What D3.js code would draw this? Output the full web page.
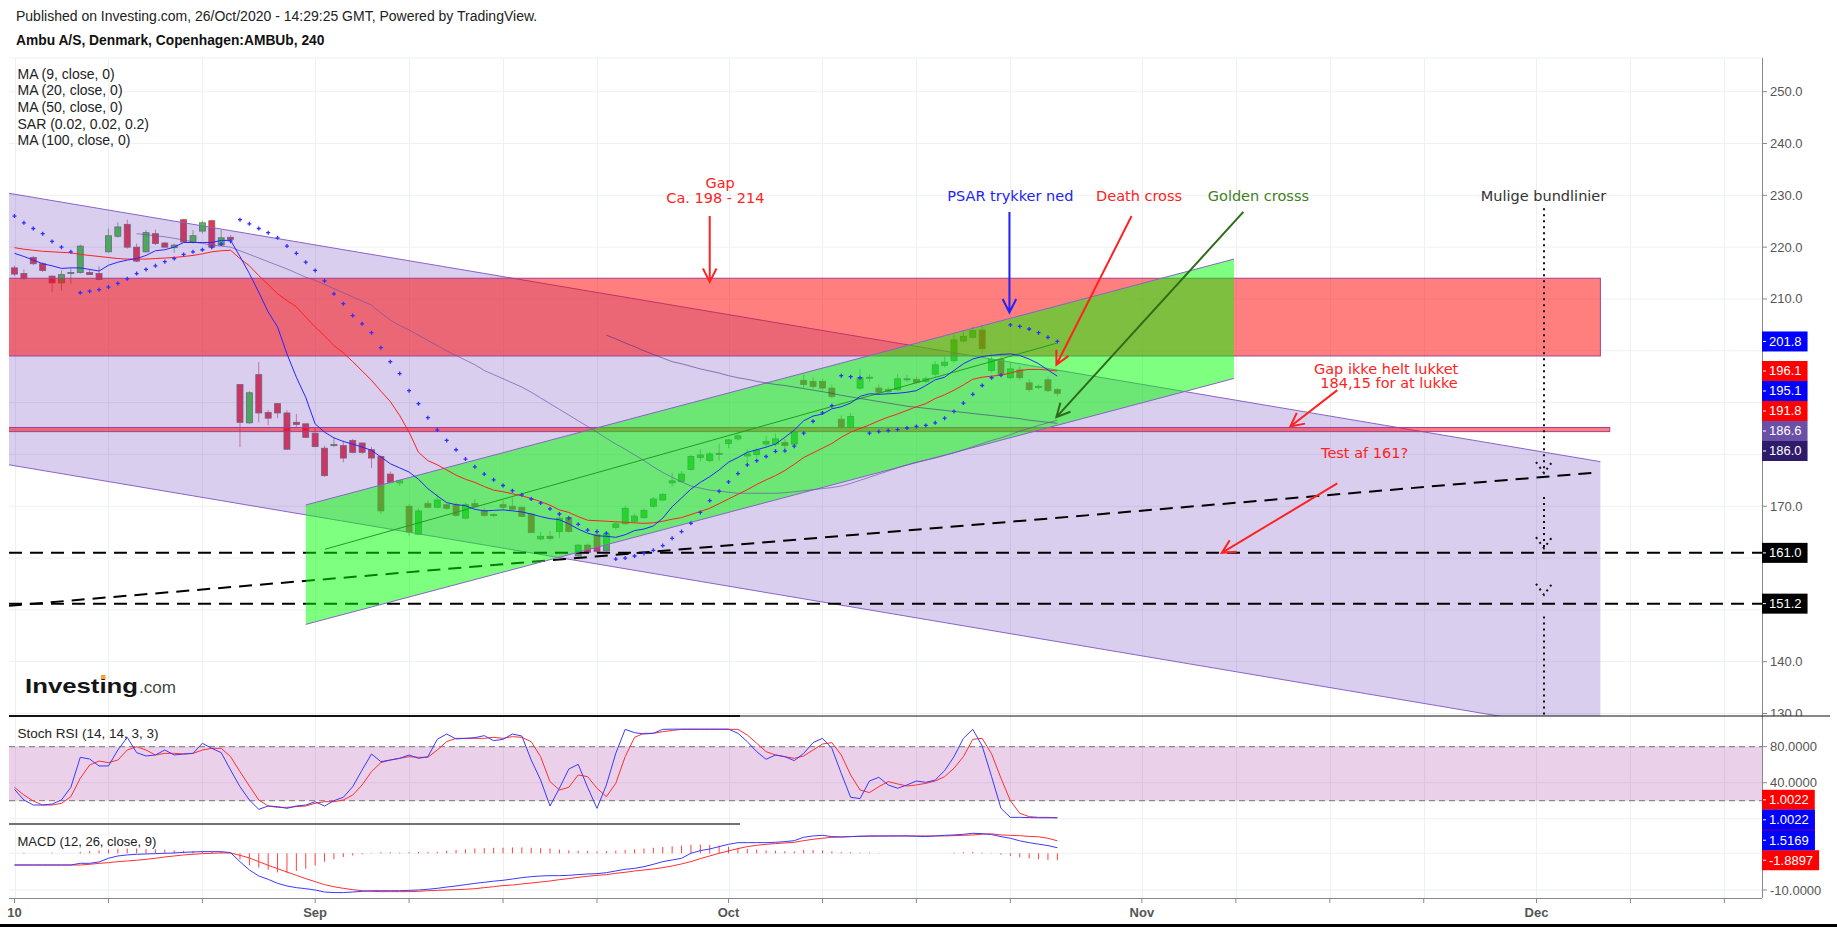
<!DOCTYPE html>
<html><head><meta charset="utf-8">
<script src="https://cdn.jsdelivr.net/npm/d3@7/dist/d3.min.js"></script>
<style>html,body{margin:0;padding:0;background:#fff;overflow:hidden}svg{display:block}</style>
</head><body>
<svg id="chart" width="1837" height="927"></svg>
<script>
// ---------------- DATA ----------------
const open=[216.0,214.9,218.0,216.8,214.4,213.1,214.9,215.1,215.1,214.9,219.1,222.1,224.4,220.0,219.1,222.6,220.8,219.9,225.3,220.9,223.1,225.1,220.4,221.9,193.5,186.1,195.4,188.1,189.8,188.0,186.2,185.9,184.1,181.2,181.7,181.7,182.7,182.2,180.9,179.6,176.2,174.5,170.0,164.6,170.5,169.8,170.3,170.3,167.7,170.5,169.2,168.4,170.3,170.0,169.8,168.5,163.7,164.2,165.1,167.8,160.4,162.5,164.5,161.4,165.9,166.6,167.1,167.8,170.0,171.2,174.5,174.8,177.1,179.4,178.8,180.2,182.1,183.0,179.7,180.0,182.0,182.0,182.3,182.0,194.3,194.1,194.1,192.8,186.8,185.2,192.8,194.7,192.8,192.5,192.5,194.6,194.5,194.1,195.5,197.2,198.1,201.9,202.6,204.0,196.2,198.4,194.8,196.3,193.8,193.0,194.4,192.5];
const high=[216.4,215.7,218.3,217.1,214.6,215.5,215.9,220.5,215.8,216.3,223.6,224.8,225.3,220.7,223.3,223.4,221.0,220.7,225.5,223.3,225.1,225.3,223.3,222.3,193.6,192.2,197.8,188.6,189.9,188.5,187.8,186.0,185.2,181.7,183.3,182.7,183.0,182.3,181.4,179.8,176.7,174.9,170.4,169.6,171.1,172.3,170.8,170.8,170.7,171.4,169.7,168.6,171.1,171.7,170.1,168.6,165.1,165.2,168.5,168.1,162.7,162.8,164.9,165.1,166.9,170.1,168.6,169.6,171.8,172.6,176.5,176.8,179.9,181.0,180.5,182.0,183.0,184.0,181.0,181.3,183.5,184.0,183.0,184.6,195.4,194.9,194.6,193.5,187.5,188.0,196.5,195.5,193.5,193.0,195.5,195.3,195.0,195.0,198.0,198.9,203.1,204.0,204.6,205.0,199.5,199.5,197.8,197.0,194.5,193.5,195.0,192.8];
const low=[214.4,213.7,216.5,215.2,211.3,211.6,212.9,214.9,214.6,213.6,218.9,221.8,219.7,217.1,218.9,220.4,219.8,218.9,220.8,220.7,222.6,219.7,220.2,220.7,181.4,185.9,186.2,185.6,187.0,180.9,185.2,183.2,181.4,175.7,181.4,178.5,180.2,180.1,177.4,168.5,174.4,173.9,164.3,164.5,169.6,169.6,169.3,168.0,167.5,169.7,168.0,167.9,169.4,169.2,168.0,164.9,163.4,163.4,163.9,164.9,160.1,160.9,161.0,161.2,165.5,166.4,166.8,167.5,169.7,171.0,173.8,174.6,176.9,178.6,178.5,178.8,181.2,182.7,178.5,179.4,181.5,181.5,181.0,181.8,192.8,192.6,192.2,190.8,184.8,184.9,192.5,194.0,191.5,191.8,192.2,194.0,193.6,193.8,195.0,196.8,197.6,201.5,202.3,199.5,195.8,195.0,194.5,194.3,192.0,192.6,192.0,191.2];
const close=[214.8,214.0,216.8,215.5,213.1,214.7,215.1,220.2,214.7,213.8,222.2,223.9,220.0,217.3,222.8,220.7,220.0,220.4,221.0,222.2,224.7,220.0,221.8,221.5,186.2,191.9,188.0,187.0,188.0,181.0,185.8,183.3,181.5,175.9,181.9,179.3,180.4,180.4,179.3,169.1,174.6,174.9,165.0,169.1,169.8,171.2,169.6,168.2,170.3,169.9,168.2,168.3,169.8,169.4,168.0,164.9,164.2,163.8,167.7,165.1,162.5,161.1,161.3,164.7,166.6,169.6,168.1,169.2,171.4,172.3,174.9,176.2,179.6,179.9,180.1,180.0,182.8,183.6,180.1,180.8,182.5,183.0,181.7,184.3,193.5,193.1,192.8,191.2,185.2,187.3,194.8,194.9,192.0,192.1,194.6,194.4,193.9,194.6,197.3,197.8,202.1,202.8,203.9,200.4,198.3,195.4,196.5,194.8,192.5,193.1,192.3,191.8];
const ma9=[218.8,218.2,217.5,216.8,216.4,215.9,216.0,216.0,215.7,215.4,216.5,217.1,217.5,217.8,218.4,219.3,219.5,220.0,220.9,220.9,220.9,220.9,221.3,221.3,218.2,214.9,211.3,207.5,204.6,199.4,194.9,191.0,185.9,184.3,183.2,182.5,182.0,181.4,180.8,179.5,178.2,177.4,176.6,175.2,173.4,172.0,170.7,170.3,170.1,169.4,169.1,169.2,169.3,169.1,168.9,168.5,168.0,167.6,167.4,166.6,165.6,164.8,164.3,164.2,164.0,164.5,165.3,165.6,166.2,167.7,169.9,171.6,173.3,174.6,175.7,177.0,178.5,179.4,180.4,180.9,181.4,182.0,183.3,184.7,186.5,187.4,187.8,188.8,189.2,189.9,191.2,191.7,191.6,191.7,191.8,192.0,192.3,193.3,194.4,194.9,196.2,197.5,198.4,198.9,199.1,199.3,199.4,199.1,198.4,197.5,196.3,195.1];
const ma20=[219.9,219.6,219.4,219.2,219.1,219.0,218.9,218.6,218.4,218.2,218.0,217.8,217.7,217.7,217.7,217.8,217.9,218.0,218.2,218.4,218.7,219.1,219.3,219.4,217.8,216.4,214.5,212.8,211.0,209.7,208.5,206.5,204.6,202.9,201.0,199.6,197.9,196.1,194.3,192.2,190.2,187.5,184.3,180.4,178.8,178.0,177.0,176.0,175.2,174.6,173.8,173.1,172.8,172.4,172.0,171.5,170.9,170.2,169.3,168.8,168.0,167.3,167.2,167.1,167.0,166.9,166.8,166.7,166.8,167.1,167.5,167.8,168.4,169.0,169.6,170.5,171.4,172.3,173.2,174.2,175.1,175.9,176.9,178.1,179.4,180.3,181.2,182.1,183.3,184.3,185.0,185.7,186.5,187.2,187.8,188.5,189.2,189.8,190.8,191.5,192.4,193.4,194.5,194.9,195.1,195.3,195.7,196.2,196.4,196.4,196.3,196.1];
const ma50=[null,null,null,null,null,null,null,null,null,null,null,null,null,222.6,222.4,222.2,222.0,221.7,221.4,221.0,220.7,220.4,220.2,220.0,219.3,218.6,217.9,217.2,216.5,215.8,215.0,214.2,213.6,212.8,212.0,211.2,210.4,209.6,208.8,207.3,205.9,204.9,204.0,203.0,202.0,201.0,200.0,199.1,198.2,197.3,196.2,195.4,194.6,193.8,193.0,192.0,190.9,189.8,188.7,187.6,186.5,185.4,184.3,183.1,182.0,181.0,179.9,178.8,177.6,176.5,175.6,174.7,173.9,173.5,173.1,172.9,172.7,172.5,172.5,172.5,172.5,172.5,172.6,172.8,173.0,173.2,173.4,173.6,173.9,174.4,175.0,175.6,176.2,176.8,177.4,178.0,178.5,178.9,179.3,179.8,180.3,180.9,181.5,182.1,182.7,183.2,183.8,184.5,185.0,185.6,186.1,186.6];
const ma100=[null,null,null,null,null,null,null,null,null,null,null,null,null,null,null,null,null,null,null,null,null,null,null,null,null,null,null,null,null,null,null,null,null,null,null,null,null,null,null,null,null,null,null,null,null,null,null,null,null,null,null,null,null,null,null,null,null,null,null,null,null,null,null,203.0,202.3,201.5,200.8,200.0,199.3,198.6,197.9,197.5,197.0,196.5,196.1,195.7,195.2,194.8,194.5,194.1,193.8,193.5,193.3,193.0,192.7,192.4,192.1,191.8,191.4,191.1,190.8,190.5,190.2,189.9,189.6,189.3,189.1,188.9,188.7,188.5,188.3,188.1,187.9,187.7,187.5,187.3,187.1,186.9,186.6,186.4,186.2,186.0];
const sar=[226.0,224.7,223.6,222.6,221.1,220.0,219.1,211.2,211.5,211.8,212.3,213.0,213.9,214.9,215.7,216.4,217.2,217.8,218.6,219.1,219.5,220.0,220.6,221.2,225.3,224.5,223.6,222.8,221.8,220.2,218.8,217.1,215.5,213.5,211.0,209.1,206.8,205.2,203.5,200.6,197.9,195.6,192.3,189.8,187.1,184.7,182.7,180.9,179.1,177.6,176.2,175.1,174.0,173.0,172.2,171.4,170.6,169.5,168.5,167.7,166.5,165.4,165.1,164.8,159.8,160.0,160.4,160.9,161.5,162.4,163.8,165.1,166.7,168.8,171.1,172.9,174.7,176.3,178.0,178.8,179.6,180.6,180.7,181.6,184.1,186.4,188.0,189.4,195.2,195.0,194.8,184.1,184.4,184.6,184.8,185.1,185.4,185.6,186.1,187.0,188.3,189.9,191.6,193.3,194.8,195.3,205.0,204.7,204.2,203.5,202.6,201.8];
const stochK=[32.6,20.8,15.2,15.2,16.3,20.8,34.9,68.2,66.3,58.6,58.6,76.3,90.4,73.4,69.7,70.8,76.3,70.8,71.9,72.6,83.8,78.2,73.4,54.1,35.6,20.8,10.4,14.1,13.4,11.5,14.1,15.2,18.9,14.1,20.0,23.8,35.6,54.1,71.9,63.4,65.2,67.1,70.8,67.1,68.9,88.2,94.1,88.6,89.3,90.0,92.3,86.7,88.2,94.1,91.9,65.2,43.0,14.1,33.8,55.2,60.4,34.9,11.5,37.5,72.6,99.3,95.6,94.1,94.9,99.3,99.5,99.5,99.5,99.5,99.5,99.5,99.5,94.9,85.6,74.5,66.0,70.8,68.9,64.5,72.6,84.5,89.3,78.2,50.4,23.8,22.3,41.9,46.0,37.5,33.8,37.5,41.9,40.4,43.0,53.4,68.9,89.3,99.3,80.8,46.7,11.5,1.5,1.5,1.2,1.0,1.0,1.0022];
const stochD=[34.9,26.3,19.7,15.2,15.2,17.1,24.5,44.9,59.7,64.1,62.3,65.2,76.3,80.0,76.3,70.8,72.6,72.6,71.9,72.6,76.3,78.2,78.2,68.9,52.3,36.3,20.8,14.1,12.6,12.6,13.4,14.1,17.1,18.9,18.9,20.8,26.3,37.5,52.3,62.3,65.2,67.1,68.9,68.2,68.2,76.3,85.6,89.3,89.3,89.3,89.3,90.4,89.3,91.2,90.4,85.6,68.9,41.2,31.9,34.9,48.6,46.7,33.8,24.5,39.3,68.9,90.4,94.9,94.9,96.7,98.0,99.3,99.3,99.3,99.3,99.3,99.3,99.3,93.0,83.8,74.5,70.8,68.9,67.1,69.7,76.3,83.0,84.5,70.8,48.6,31.9,29.0,35.6,41.2,38.6,36.3,37.5,39.3,41.9,46.7,56.0,68.9,88.2,89.3,72.0,45.0,20.0,6.0,2.3,1.5,1.5,1.0022];
const macd=[-3.19,-3.19,-3.19,-3.19,-3.19,-3.19,-3.19,-2.73,-2.73,-2.36,-1.36,-0.73,-0.45,-0.27,-0.18,-0.09,0.0,0.09,0.27,0.36,0.45,0.45,0.45,0.18,-2.27,-4.55,-6.18,-7.09,-8.18,-8.9,-9.36,-9.64,-10.0,-10.55,-10.7,-10.7,-10.55,-10.36,-10.2,-10.2,-10.2,-10.2,-10.1,-10.0,-9.8,-9.55,-9.2,-8.9,-8.55,-8.2,-7.9,-7.6,-7.36,-7.0,-6.64,-6.36,-6.18,-6.1,-6.1,-6.0,-5.8,-5.64,-5.55,-5.27,-4.82,-4.36,-4.1,-3.64,-3.0,-2.27,-1.82,-1.36,0.0,0.73,1.18,1.82,2.45,2.9,2.9,2.9,2.9,3.0,3.18,3.45,4.36,4.73,4.9,4.55,4.45,4.55,4.64,4.73,4.73,4.73,4.73,4.73,4.64,4.55,4.73,4.9,5.0,5.18,5.45,5.36,5.1,4.55,4.1,3.4,2.9,2.5,2.1,1.5169];
const signal=[-3.19,-3.19,-3.19,-3.19,-3.19,-3.19,-3.19,-3.19,-3.0,-2.73,-2.55,-2.27,-2.09,-1.9,-1.64,-1.36,-1.0,-0.73,-0.45,-0.27,-0.09,0.0,0.09,0.09,-0.55,-1.27,-2.27,-3.27,-4.18,-5.1,-6.0,-6.9,-7.73,-8.55,-9.1,-9.55,-9.9,-10.2,-10.36,-10.45,-10.45,-10.45,-10.45,-10.36,-10.2,-10.1,-10.0,-9.9,-9.8,-9.64,-9.36,-9.1,-8.8,-8.64,-8.36,-8.1,-7.82,-7.55,-7.18,-6.9,-6.55,-6.27,-6.0,-5.82,-5.45,-5.18,-4.82,-4.55,-4.27,-3.9,-3.45,-2.9,-2.27,-1.45,-0.73,0.0,0.64,1.27,1.82,2.18,2.45,2.64,2.82,3.0,3.45,3.82,4.1,4.36,4.45,4.55,4.64,4.64,4.7,4.7,4.73,4.73,4.73,4.73,4.73,4.73,4.8,4.9,5.0,5.2,5.3,5.0,4.9,4.8,4.6,4.5,4.1,3.4066];
const hist=[0.0,0.2,0.0,0.0,0.2,0.0,0.0,0.4,0.6,0.8,1.0,1.2,1.3,1.3,1.2,1.1,1.0,0.8,0.7,0.6,0.5,0.4,0.3,0.1,-1.7,-3.3,-3.9,-4.5,-5.2,-5.3,-4.8,-4.2,-3.3,-2.3,-1.6,-1.0,-0.6,-0.3,0.1,0.3,0.3,0.2,0.3,0.4,0.4,0.4,0.7,0.9,1.1,1.3,1.4,1.5,1.5,1.6,1.6,1.5,1.4,1.3,1.0,0.8,0.7,0.6,0.5,0.6,0.7,0.9,1.1,1.3,1.5,1.7,1.9,2.1,2.3,2.4,2.3,2.1,1.8,1.5,1.2,1.0,0.8,0.7,0.6,0.5,0.9,0.9,0.8,0.5,0.3,0.3,0.2,0.2,0.1,0.0,0.0,0.0,0.0,0.0,0.0,0.0,0.2,0.3,0.4,0.2,0.1,-0.4,-0.7,-1.1,-1.4,-1.6,-1.8,-1.8897];
const tickBars=[0,10,20,32,42,52,62,76,86,96,106,120,130,140,150,162,172,182];
const tickLabelBars=[0,32,76,120,162];
const tickLabels=['10','Sep','Oct','Nov','Dec'];
const priceTicks=[130,140,150,160,170,180,190,200,210,220,230,240,250];
const stochTicks=[0,40,80];
const macdTicks=[-10,0];
const levels=[161.0,151.2];

// drawings in (bar, price) terms
const purpleChannel={a:[-0.6,230.4],b:[168.8,178.6],w:52.4};
const gapBox={b0:-1,b1:168.8,p0:199.0,p1:214.0};
const closeBox={b0:-1,b1:169.8,p0:184.4,p1:185.2};
const greenChannel={a:[31.0,170.24],b:[129.8,217.7],w:23.04};
const greenMid=[[33.05,161.7],[110.9,201.45]];
const slopeDash=[[-0.6,150.8],[168.4,176.5]];
const dotBar=162.8;
const dotSegs=[[227.5,176.4],[171.8,161.9],[148.7,129]];
const dotHeads=[176.4,161.9,152.9];
const annotations=[
 {lines:[['Gap',75.1,232.3],['Ca. 198 - 214',74.6,229.55]],c:'#f22'},
 {lines:[['PSAR trykker ned',106.0,229.9]],c:'#2424f0'},
 {lines:[['Death cross',119.7,229.9]],c:'#f22'},
 {lines:[['Golden crosss',132.4,229.9]],c:'#3f7f22'},
 {lines:[['Mulige bundlinier',162.75,229.9]],c:'#333'},
 {lines:[['Gap ikke helt lukket',146.0,196.4],['184,15 for at lukke',146.3,193.7]],c:'#f22'},
 {lines:[['Test af 161?',143.7,180.3]],c:'#f22'}
];
const arrows=[
 {f:[74.0,226.0],t:[74.0,213.3],c:'#f22'},
 {f:[105.9,226.8],t:[105.9,207.4],c:'#22f'},
 {f:[118.9,226.0],t:[110.9,197.3],c:'#f22'},
 {f:[130.8,226.8],t:[110.9,187.2],c:'#2f6b1a'},
 {f:[140.8,192.4],t:[135.8,185.4],c:'#f22'},
 {f:[140.8,174.4],t:[128.5,161.0],c:'#f22'}
];

// ---------------- LAYOUT ----------------
const W=1837,H=927;
const PL=9,PR=1762,MT=58,MB=716,SB=824,DB=898;
const F="'Liberation Sans', Arial, sans-serif";
const FD="'DejaVu Sans', Verdana, sans-serif";
const x=d3.scaleLinear().domain([0,162]).range([14.5,14.5+162*9.395]);
const y=d3.scaleLinear().domain([130,250]).range([713.5,91.7]);
const ys=d3.scaleLinear().domain([0,100]).range([818.7,728.7]);
const ym=d3.scaleLinear().domain([-10,0]).range([890,853.3]);
const bars=d3.range(close.length);
const last=close.length-1;

const svg=d3.select('#chart');
const defs=svg.append('defs');
function mkClip(id,x0,y0,w,h){defs.append('clipPath').attr('id',id).append('rect').attr('x',x0).attr('y',y0).attr('width',w).attr('height',h);}
mkClip('cm',PL,MT,PR-PL,MB-MT);
mkClip('cs',PL,MB,PR-PL,SB-MB);
mkClip('cd',PL,SB,PR-PL,DB-SB);
mkClip('ca',PR,MT,W-PR,MB-MT);

svg.append('rect').attr('width',W).attr('height',H).attr('fill','#fff');

// header
svg.append('text').attr('x',16).attr('y',21).attr('font-family',F).attr('font-size',14).attr('fill','#222')
 .text('Published on Investing.com, 26/Oct/2020 - 14:29:25 GMT, Powered by TradingView.');
svg.append('text').attr('x',16).attr('y',44.5).attr('font-family',F).attr('font-size',13.8).attr('font-weight','bold').attr('fill','#111')
 .text('Ambu A/S, Denmark, Copenhagen:AMBUb, 240');

// grid
const g0=svg.append('g').attr('stroke','#eef0f3').attr('stroke-width',1);
tickBars.forEach(b=>{const xx=Math.round(x(b))+0.5; if(xx<PR) g0.append('line').attr('x1',xx).attr('x2',xx).attr('y1',MT).attr('y2',DB);});
priceTicks.forEach(v=>g0.append('line').attr('x1',PL).attr('x2',PR).attr('y1',y(v)).attr('y2',y(v)));
stochTicks.forEach(v=>g0.append('line').attr('x1',PL).attr('x2',PR).attr('y1',ys(v)).attr('y2',ys(v)));
macdTicks.forEach(v=>g0.append('line').attr('x1',PL).attr('x2',PR).attr('y1',ym(v)).attr('y2',ym(v)));
g0.append('line').attr('x1',PL).attr('x2',PR).attr('y1',MT).attr('y2',MT);

// ---- main pane
const gm=svg.append('g').attr('clip-path','url(#cm)');
const UP='#3fcf3f',DN='#ee3348';
gm.append('g').selectAll('line').data(bars).join('line')
 .attr('x1',i=>x(i)).attr('x2',i=>x(i)).attr('y1',i=>y(high[i])).attr('y2',i=>y(low[i]))
 .attr('stroke',i=>close[i]>=open[i]?'#7fb87f':'#d88a95').attr('stroke-width',1);
gm.append('g').selectAll('rect').data(bars).join('rect')
 .attr('x',i=>x(i)-3).attr('width',6)
 .attr('y',i=>y(Math.max(open[i],close[i])))
 .attr('height',i=>Math.max(1,Math.abs(y(open[i])-y(close[i]))))
 .attr('fill',i=>close[i]>=open[i]?UP:DN).attr('stroke','#707070').attr('stroke-width',0.8);

// purple channel
const pc=purpleChannel;
gm.append('path').attr('d',`M${x(pc.a[0])},${y(pc.a[1])}L${x(pc.b[0])},${y(pc.b[1])}L${x(pc.b[0])},${y(pc.b[1]-pc.w)}L${x(pc.a[0])},${y(pc.a[1]-pc.w)}Z`)
 .attr('fill','rgba(103,58,183,0.25)');
[0,pc.w].forEach(o=>gm.append('line').attr('x1',x(pc.a[0])).attr('y1',y(pc.a[1]-o)).attr('x2',x(pc.b[0])).attr('y2',y(pc.b[1]-o))
 .attr('stroke','#8a63c8').attr('stroke-width',1));
// red boxes
[gapBox,closeBox].forEach(bx=>{
 gm.append('rect').attr('x',x(bx.b0)).attr('width',x(bx.b1)-x(bx.b0)).attr('y',y(bx.p1)).attr('height',y(bx.p0)-y(bx.p1))
  .attr('fill','rgba(255,0,0,0.5)').attr('stroke','#a0409a').attr('stroke-width',1);
});
// dashed levels
levels.forEach(v=>gm.append('line').attr('x1',PL).attr('x2',PR).attr('y1',y(v)).attr('y2',y(v))
 .attr('stroke','#000').attr('stroke-width',2).attr('stroke-dasharray','13,8'));
gm.append('line').attr('x1',x(slopeDash[0][0])).attr('y1',y(slopeDash[0][1])).attr('x2',x(slopeDash[1][0])).attr('y2',y(slopeDash[1][1]))
 .attr('stroke','#000').attr('stroke-width',2).attr('stroke-dasharray','13,8');
// green channel
const gc=greenChannel;
gm.append('path').attr('d',`M${x(gc.a[0])},${y(gc.a[1])}L${x(gc.b[0])},${y(gc.b[1])}L${x(gc.b[0])},${y(gc.b[1]-gc.w)}L${x(gc.a[0])},${y(gc.a[1]-gc.w)}Z`)
 .attr('fill','rgba(0,255,0,0.5)');
[0,gc.w].forEach(o=>gm.append('line').attr('x1',x(gc.a[0])).attr('y1',y(gc.a[1]-o)).attr('x2',x(gc.b[0])).attr('y2',y(gc.b[1]-o))
 .attr('stroke','#8a63c8').attr('stroke-width',1));
gm.append('line').attr('x1',x(greenMid[0][0])).attr('y1',y(greenMid[0][1])).attr('x2',x(greenMid[1][0])).attr('y2',y(greenMid[1][1]))
 .attr('stroke','#1e9e1e').attr('stroke-width',1);

// moving averages
function mline(arr,sc){return d3.line().defined(i=>arr[i]!=null).x(i=>x(i)).y(i=>sc(arr[i]))(bars);}
gm.append('path').attr('d',mline(ma100,y)).attr('fill','none').attr('stroke','rgba(60,40,130,0.55)').attr('stroke-width',1);
gm.append('path').attr('d',mline(ma50,y)).attr('fill','none').attr('stroke','rgba(106,80,167,0.65)').attr('stroke-width',1);
gm.append('path').attr('d',mline(ma20,y)).attr('fill','none').attr('stroke','#ff2020').attr('stroke-width',1);
gm.append('path').attr('d',mline(ma9,y)).attr('fill','none').attr('stroke','#2525ff').attr('stroke-width',1);
// PSAR
gm.append('path').attr('d',bars.map(i=>{const px=x(i),py=y(sar[i]);return `M${px-2},${py}h4M${px},${py-2}v4`;}).join(''))
 .attr('stroke','#3030ff').attr('stroke-width',1.3);

// dotted vertical
const dv=x(dotBar);
dotSegs.forEach(s=>gm.append('line').attr('x1',dv).attr('x2',dv).attr('y1',y(s[0])).attr('y2',y(s[1]))
 .attr('stroke','#111').attr('stroke-width',2).attr('stroke-dasharray','2,4'));
dotHeads.forEach(p=>{const ty=y(p);
 gm.append('path').attr('d',`M${dv-8},${ty-11}L${dv},${ty}L${dv+8},${ty-11}`).attr('fill','none')
  .attr('stroke','#111').attr('stroke-width',2).attr('stroke-dasharray','2,4');});

// arrows
arrows.forEach(a=>{
 const x1=x(a.f[0]),y1=y(a.f[1]),x2=x(a.t[0]),y2=y(a.t[1]);
 const ang=Math.atan2(y2-y1,x2-x1),L=15,s=0.47;
 const h1=[x2-L*Math.cos(ang-s),y2-L*Math.sin(ang-s)],h2=[x2-L*Math.cos(ang+s),y2-L*Math.sin(ang+s)];
 gm.append('path').attr('d',`M${x1},${y1}L${x2},${y2}M${h1[0]},${h1[1]}L${x2},${y2}L${h2[0]},${h2[1]}`)
  .attr('fill','none').attr('stroke',a.c).attr('stroke-width',2);
});
// annotation texts
annotations.forEach(an=>an.lines.forEach(l=>{
 gm.append('text').attr('x',x(l[1])).attr('y',y(l[2])+5).attr('text-anchor','middle')
  .attr('font-family',FD).attr('font-size',14.5).attr('fill',an.c).text(l[0]);
}));

// logo
const logo=svg.append('text').attr('x',25).attr('y',693).attr('font-family',F).attr('font-weight','bold').attr('font-size',21)
 .attr('fill','#151515').attr('textLength',113).attr('lengthAdjust','spacingAndGlyphs').text('Investing');
svg.append('text').attr('x',139).attr('y',693).attr('font-family',F).attr('font-size',16).attr('fill','#444')
 .attr('textLength',37).attr('lengthAdjust','spacingAndGlyphs').text('.com');
try{const e=logo.node().getExtentOfChar(6);
 svg.append('rect').attr('x',e.x+e.width/2-2).attr('y',e.y+1).attr('width',4.5).attr('height',4).attr('fill','#f5a623');}catch(err){}

// legend
['MA (9, close, 0)','MA (20, close, 0)','MA (50, close, 0)','SAR (0.02, 0.02, 0.2)','MA (100, close, 0)'].forEach((t,k)=>{
 svg.append('text').attr('x',17.5).attr('y',78.5+k*16.7).attr('font-family',F).attr('font-size',14).attr('fill','#222').text(t);
});

// ---- stoch pane
const gs=svg.append('g').attr('clip-path','url(#cs)');
gs.append('rect').attr('x',PL).attr('width',PR-PL).attr('y',ys(80)).attr('height',ys(20)-ys(80)).attr('fill','rgba(153,21,149,0.2)');
[80,20].forEach(v=>gs.append('line').attr('x1',PL).attr('x2',PR).attr('y1',ys(v)).attr('y2',ys(v))
 .attr('stroke','#8c8c8c').attr('stroke-width',1.2).attr('stroke-dasharray','6,4'));
gs.append('path').attr('d',mline(stochD,ys)).attr('fill','none').attr('stroke','#ff3030').attr('stroke-width',1);
gs.append('path').attr('d',mline(stochK,ys)).attr('fill','none').attr('stroke','#3a3aff').attr('stroke-width',1);
svg.append('text').attr('x',17.5).attr('y',738).attr('font-family',F).attr('font-size',13.5).attr('fill','#222').text('Stoch RSI (14, 14, 3, 3)');

// ---- macd pane
const gd=svg.append('g').attr('clip-path','url(#cd)');
gd.append('g').selectAll('line').data(bars.filter(i=>hist[i]!==0)).join('line')
 .attr('x1',i=>x(i)).attr('x2',i=>x(i)).attr('y1',ym(0)).attr('y2',i=>ym(hist[i]))
 .attr('stroke','#ff4040').attr('stroke-width',1);
gd.append('path').attr('d',mline(signal,ym)).attr('fill','none').attr('stroke','#ff3030').attr('stroke-width',1);
gd.append('path').attr('d',mline(macd,ym)).attr('fill','none').attr('stroke','#3a3aff').attr('stroke-width',1);
svg.append('text').attr('x',17.5).attr('y',845.5).attr('font-family',F).attr('font-size',13).attr('fill','#222').text('MACD (12, 26, close, 9)');

// ---- value labels positions (computed first so hidden tick labels can be skipped)
const mainLabels=[
 {v:sar[last],c:'#0000ff'},{v:ma20[last],c:'#ff0000'},{v:ma9[last],c:'#0000ff'},
 {v:close[last],c:'#ff0000'},{v:ma50[last],c:'#6a50a7'},{v:ma100[last],c:'#2e1c6a'}
].sort((a,b)=>b.v-a.v);
let prev=-1e9;
mainLabels.forEach(d=>{d.y=Math.max(y(d.v),prev+20);prev=d.y;});
levels.forEach(v=>mainLabels.push({v:v,c:'#000',y:y(v)}));
const yHist=ym(hist[last]);
const yMacd=Math.min(ym(macd[last]),yHist-20);
const ySig=Math.min(ym(signal[last]),yMacd-14);
const yK=ys(stochK[last])+2;
const lowerLabels=[
 {y:yK-20,t:stochD[last].toFixed(4),c:'#ff0000'},
 {y:yK,t:stochK[last].toFixed(4),c:'#0000ff'},
 {y:yMacd,t:macd[last].toFixed(4),c:'#0000ff'},
 {y:yHist,t:hist[last].toFixed(4),c:'#ff0000'}
];
const allLabelY=mainLabels.map(d=>d.y).concat(lowerLabels.map(d=>d.y));
const hidden=yy=>allLabelY.some(v=>Math.abs(v-yy)<13);

// ---- axes
const ax=svg.append('g');
ax.append('line').attr('x1',PR+0.5).attr('x2',PR+0.5).attr('y1',MT).attr('y2',DB).attr('stroke','#888').attr('stroke-width',1);
ax.append('line').attr('x1',PL).attr('x2',PR).attr('y1',DB+0.5).attr('y2',DB+0.5).attr('stroke','#888').attr('stroke-width',1);
const axMain=svg.append('g').attr('clip-path','url(#ca)');
priceTicks.forEach(v=>{
 axMain.append('line').attr('x1',PR).attr('x2',PR+5).attr('y1',y(v)).attr('y2',y(v)).attr('stroke','#888');
 if(!hidden(y(v))) axMain.append('text').attr('x',PR+8).attr('y',y(v)+4.5).attr('font-family',F).attr('font-size',13).attr('fill','#555').text(v.toFixed(1));
});
stochTicks.forEach(v=>{
 ax.append('line').attr('x1',PR).attr('x2',PR+5).attr('y1',ys(v)).attr('y2',ys(v)).attr('stroke','#888');
 if(!hidden(ys(v))) ax.append('text').attr('x',PR+8).attr('y',ys(v)+4.5).attr('font-family',F).attr('font-size',13).attr('fill','#555').text(v.toFixed(4));
});
macdTicks.forEach(v=>{
 ax.append('line').attr('x1',PR).attr('x2',PR+5).attr('y1',ym(v)).attr('y2',ym(v)).attr('stroke','#888');
 if(!hidden(ym(v))) ax.append('text').attr('x',PR+8).attr('y',ym(v)+4.5).attr('font-family',F).attr('font-size',13).attr('fill','#555').text(v.toFixed(4));
});
tickBars.forEach(b=>{const xx=x(b); if(xx<PR) ax.append('line').attr('x1',xx).attr('x2',xx).attr('y1',DB).attr('y2',DB+5).attr('stroke','#888');});
tickLabelBars.forEach((b,k)=>ax.append('text').attr('x',x(b)).attr('y',917).attr('text-anchor','middle')
 .attr('font-family',F).attr('font-size',13).attr('font-weight','bold').attr('fill','#555').text(tickLabels[k]));

// value labels
function vlabel(yy,txt,col){
 const g=svg.append('g');
 const t=g.append('text').attr('x',PR+7).attr('y',yy+4.5).attr('font-family',F).attr('font-size',13).attr('fill','#fff').text(txt);
 const w=t.node().getComputedTextLength()+13;
 g.insert('rect','text').attr('x',PR).attr('y',yy-10).attr('width',w).attr('height',20).attr('fill',col);
 g.append('line').attr('x1',PR+1).attr('x2',PR+4).attr('y1',yy).attr('y2',yy).attr('stroke','#fff');
 return w;
}
mainLabels.forEach(d=>vlabel(d.y,d.v.toFixed(1),d.c));
// signal-line label sits almost fully behind the neighbouring labels (only its red edge shows)
const sigRect=svg.append('rect').attr('x',PR).attr('y',ySig-10).attr('height',20).attr('fill','#ff0000');
let kw=0;
lowerLabels.forEach((d,k)=>{const w=vlabel(d.y,d.t,d.c); if(k===1) kw=w;});
sigRect.attr('width',kw).lower();
sigRect.raise();
svg.selectAll('g').filter(function(){return false;});
// redraw the stoch/macd blue labels above the signal strip
vlabel(yK,stochK[last].toFixed(4),'#0000ff');
vlabel(yMacd,macd[last].toFixed(4),'#0000ff');

// separators
svg.append('line').attr('x1',PL).attr('x2',740).attr('y1',MB).attr('y2',MB).attr('stroke','#111').attr('stroke-width',2);
svg.append('line').attr('x1',740).attr('x2',1830).attr('y1',MB).attr('y2',MB).attr('stroke','#111').attr('stroke-width',1.2);
svg.append('line').attr('x1',PL).attr('x2',740).attr('y1',SB).attr('y2',SB).attr('stroke','#444').attr('stroke-width',1.5);
svg.append('rect').attr('x',0).attr('y',924).attr('width',W).attr('height',3).attr('fill','#000');
</script>
</body></html>
